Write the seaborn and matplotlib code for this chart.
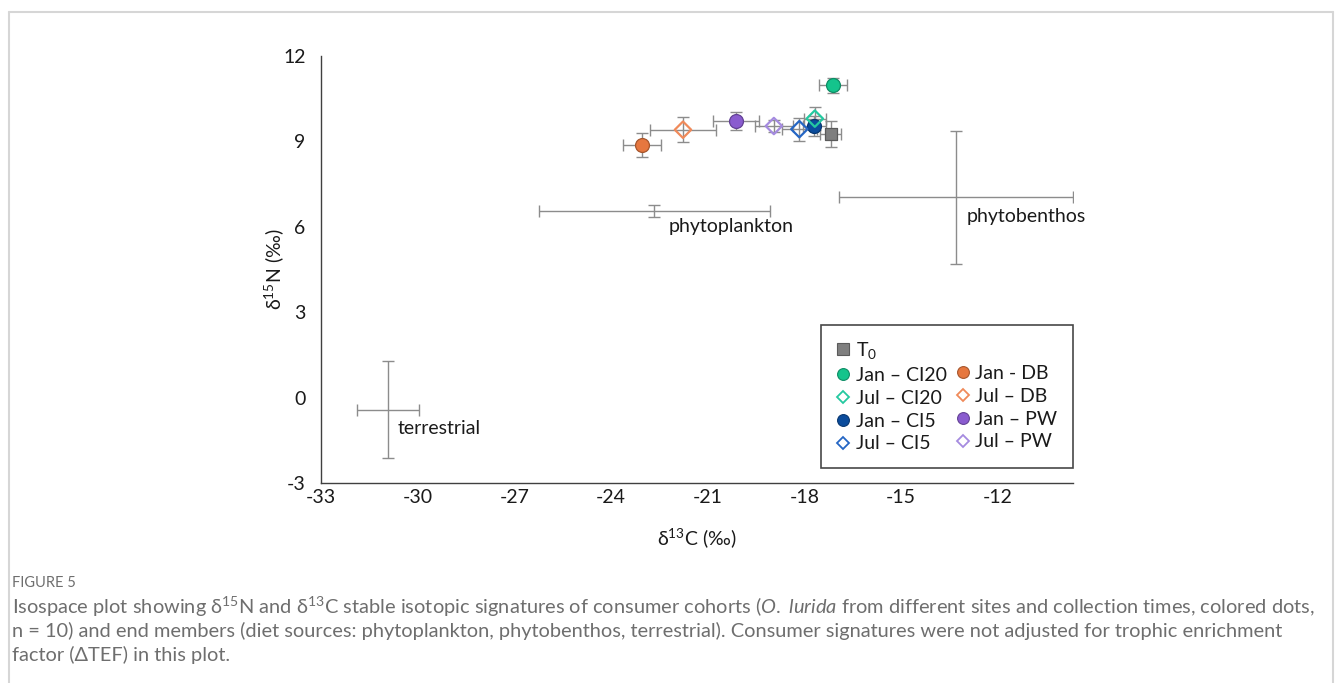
import matplotlib
matplotlib.use("Agg")
import matplotlib.pyplot as plt
from matplotlib.lines import Line2D
import matplotlib.colors as mcolors
import seaborn as sns
import pandas as pd

# Consumer cohorts: mean d13C, mean d15N and their standard deviations
cohorts = ["T$_0$", "Jan – CI20", "Jul – CI20", "Jan – CI5", "Jul – CI5",
           "Jan - DB", "Jul – DB", "Jan – PW", "Jul – PW"]
d13c = [-17.19, -17.12, -17.68, -17.69, -18.16, -23.04, -21.77, -20.12, -18.95]
d15n = [9.26, 10.97, 9.80, 9.53, 9.43, 8.86, 9.41, 9.72, 9.54]
d13c_sd = [0.33, 0.43, 0.35, 0.35, 0.55, 0.60, 1.02, 0.71, 0.59]
d15n_sd = [0.47, 0.27, 0.40, 0.35, 0.40, 0.42, 0.43, 0.31, 0.22]
colors = ["#7f7f7f", "#14c48c", "#24c9a0", "#0b4c9c", "#2566c4",
          "#e6773f", "#f08a5a", "#8a5ccf", "#a58be0"]
markers = ["s", "o", "D", "o", "D", "o", "D", "o", "D"]
filled = [True, True, False, True, False, True, False, True, False]

# End members (diet sources)
sources = ["phytoplankton", "phytobenthos", "terrestrial"]
src_d13c = [-22.66, -13.31, -30.92]
src_d15n = [6.56, 7.03, -0.42]
src_d13c_sd = [3.59, 3.63, 0.96]
src_d15n_sd = [0.20, 2.34, 1.70]

x_ticks = [-33, -30, -27, -24, -21, -18, -15, -12]
y_ticks = [-3, 0, 3, 6, 9, 12]

sns.set_theme(style="white")
plt.rcParams["font.family"] = ["Lato", "DejaVu Sans"]
plt.rcParams["mathtext.fontset"] = "custom"
plt.rcParams["mathtext.rm"] = "Lato"
plt.rcParams["mathtext.it"] = "Lato:italic"


def darker(c, f=0.72):
    r, g, b = mcolors.to_rgb(c)
    return (r * f, g * f, b * f)


fig = plt.figure(figsize=(13.35, 6.83), dpi=100)
ax = fig.add_axes([321 / 1335, 1 - 483 / 683, (1073 - 321) / 1335, (483 - 56) / 683])

df = pd.DataFrame({"cohort": cohorts, "d13c": d13c, "d15n": d15n,
                   "sx": d13c_sd, "sy": d15n_sd})
src = pd.DataFrame({"source": sources, "d13c": src_d13c, "d15n": src_d15n,
                    "sx": src_d13c_sd, "sy": src_d15n_sd})

err_kw = dict(fmt="none", ecolor="#8c8c8c", elinewidth=1.0, capsize=4, capthick=1.0)

# source crosses
ax.errorbar(src["d13c"], src["d15n"], xerr=src["sx"], yerr=src["sy"], zorder=1, **err_kw)
label_off = {"phytoplankton": (0.45, -0.55), "phytobenthos": (0.35, -0.68),
             "terrestrial": (0.3, -0.68)}
for _, r in src.iterrows():
    dx, dy = label_off[r["source"]]
    ax.text(r["d13c"] + dx, r["d15n"] + dy, r["source"], fontsize=14,
            color="#1a1a1a", ha="left", va="center")

# consumer cohorts: filled markers first, hollow diamonds on top
ax.errorbar(df["d13c"], df["d15n"], xerr=df["sx"], yerr=df["sy"], zorder=2, **err_kw)
handles = []
for i, row in df.iterrows():
    col = colors[i]
    if filled[i]:
        fc, ec, lw = col, darker(col), 0.9
    else:
        fc, ec, lw = "none", col, 1.6
    size = {"o": 100, "s": 85, "D": 70}[markers[i]]
    z = 3 if filled[i] else 4
    sns.scatterplot(x=[row["d13c"]], y=[row["d15n"]], ax=ax, marker=markers[i],
                    s=size, color=col, facecolor=fc, edgecolor=ec,
                    linewidth=lw, zorder=z, legend=False)
    handles.append(Line2D([], [], linestyle="none", marker=markers[i],
                          markersize=8.5 if markers[i] != "D" else 6.5,
                          markerfacecolor=fc, markeredgecolor=ec,
                          markeredgewidth=0.8 if filled[i] else 1.3, label=row["cohort"]))

ax.set_xlim(-33, -9.67)
ax.set_ylim(-3, 12)
ax.set_xticks(x_ticks)
ax.set_yticks(y_ticks)
ax.set_xticklabels([str(v) for v in x_ticks])
ax.set_yticklabels([str(v) for v in y_ticks])
ax.tick_params(axis="both", which="major", direction="out", length=4, width=1,
               color="#404040", labelsize=14, labelcolor="#1a1a1a")
ax.tick_params(axis="x", pad=0.5)
ax.tick_params(axis="y", pad=7)
for s in ["top", "right"]:
    ax.spines[s].set_visible(False)
for s in ["left", "bottom"]:
    ax.spines[s].set_color("#404040")
    ax.spines[s].set_linewidth(1.0)
ax.set_xlabel("δ$^{13}$C (‰)", fontsize=14, color="#1a1a1a", labelpad=14)
ax.set_ylabel("δ$^{15}$N (‰)", fontsize=14, color="#1a1a1a", labelpad=-2)

# legend: T0 alone on the first row, then two columns
blank = Line2D([], [], linestyle="none", label=" ")
order = [handles[0], handles[1], handles[2], handles[3], handles[4],
         blank, handles[5], handles[6], handles[7], handles[8]]
leg = ax.legend(handles=order, ncol=2, loc="lower right",
                bbox_to_anchor=(1.0, (483 - 468) / 427), borderaxespad=0,
                frameon=True, fontsize=14,
                handlelength=0.7, handletextpad=0.3, columnspacing=0.45,
                labelspacing=0.3, borderpad=0.8, fancybox=False)
leg.get_frame().set_edgecolor("#1a1a1a")
leg.get_frame().set_linewidth(1.2)
for t in leg.get_texts():
    t.set_color("#1a1a1a")

# outer panel border
fig.add_artist(plt.Line2D([9 / 1335, 9 / 1335], [0, 1 - 12 / 683], color="#d6d6d6", lw=1.5))
fig.add_artist(plt.Line2D([9 / 1335, 1333 / 1335], [1 - 12 / 683, 1 - 12 / 683], color="#d6d6d6", lw=1.5))
fig.add_artist(plt.Line2D([1333 / 1335, 1333 / 1335], [0, 1 - 12 / 683], color="#d6d6d6", lw=1.5))

# caption
cap_col = "#6e6e6e"
fig.text(12 / 1335, 1 - 583 / 683, "FIGURE 5", fontsize=10.5, color=cap_col, va="center")
lines = [
    "Isospace plot showing δ$^{15}$N and δ$^{13}$C stable isotopic signatures of consumer cohorts "
    "($\\mathit{O.\\ lurida}$ from different sites and collection times, colored dots,",
    "n = 10) and end members (diet sources: phytoplankton, phytobenthos, terrestrial). "
    "Consumer signatures were not adjusted for trophic enrichment",
    "factor (ΔTEF) in this plot.",
]
for k, ln in enumerate(lines):
    fig.text(12 / 1335, 1 - (607 + 24 * k) / 683, ln, fontsize=14.4, color=cap_col, va="center")

fig.savefig("out.png", dpi=100)
